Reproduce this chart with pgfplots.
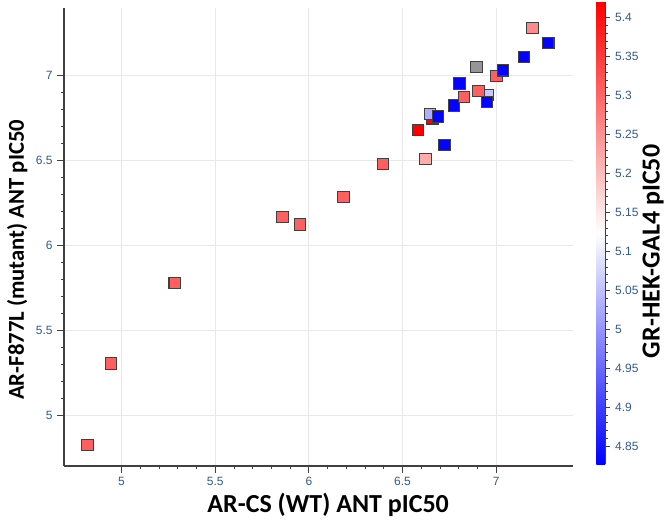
\documentclass[border=0pt]{standalone}
\usepackage{fontspec}
\setmainfont{Liberation Sans}
\newfontfamily\labfont{Carlito}
\usepackage{pgfplots}
\usepackage{pgfplotstable}
\pgfplotsset{compat=1.18}

\definecolor{ticklab}{RGB}{50,90,140}
\definecolor{gridc}{RGB}{232,232,232}
\definecolor{nodata}{RGB}{150,150,150}

% x y meta (GR-HEK-GAL4 pIC50)
\pgfplotstableread{
x      y      c
4.818  4.823  5.31
4.945  5.305  5.31
5.284  5.779  5.31
5.859  6.168  5.31
5.953  6.123  5.31
6.185  6.286  5.31
6.396  6.481  5.31
6.623  6.510  5.22
6.582  6.681  5.42
6.725  6.593  4.83
6.659  6.750  5.42
6.646  6.774  5.03
6.689  6.760  4.83
6.775  6.825  4.83
6.828  6.876  5.31
6.953  6.888  5.06
6.951  6.845  4.83
6.905  6.912  5.31
6.805  6.955  4.83
7.001  7.000  5.31
7.037  7.033  4.83
7.148  7.110  4.83
7.278  7.193  4.83
7.194  7.281  5.26
}\pts

\begin{document}
\begin{tikzpicture}
\useasboundingbox (0,0) rectangle (499.5pt,392.25pt);
\begin{axis}[
  at={(48pt,42.75pt)}, anchor=south west,
  scale only axis, width=381.75pt, height=343.5pt,
  xmin=4.693, xmax=7.41, ymin=4.70, ymax=7.40,
  axis x line*=bottom, axis y line*=left,
  axis line style={-, black!75, line width=0.8pt},
  tick align=outside,
  xtick={5,5.5,6,6.5,7}, ytick={5,5.5,6,6.5,7},
  minor x tick num=4, minor y tick num=4,
  major tick length=5pt, minor tick length=2.5pt,
  tick style={black!75, line width=0.6pt},
  grid=major, major grid style={gridc, line width=0.6pt},
  ticklabel style={font=\fontsize{9}{10}\selectfont, text=ticklab},
  /pgf/number format/assume math mode=true,
  xlabel={AR-CS (WT) ANT pIC50},
  ylabel={AR-F877L (mutant) ANT pIC50},
  xlabel style={font=\labfont\bfseries\fontsize{19.5}{22}\selectfont,
    at={(axis description cs:0.519,0)}, yshift=-29pt, anchor=center},
  ylabel style={font=\labfont\bfseries\fontsize{17}{20}\selectfont,
    at={(axis description cs:0,0.45)}, yshift=35pt, anchor=center},
  colormap={bwr}{rgb255=(0,0,255) rgb255=(255,255,255) rgb255=(255,0,0)},
  point meta min=4.827, point meta max=5.42,
  colorbar,
  colorbar style={
    at={(parent axis.north east)}, anchor=north west, xshift=9pt, yshift=4.5pt,
    scale only axis, width=6.5pt, height=346.5pt,
    axis x line=none, axis y line*=right,
    axis line style={-, black!75, line width=0.8pt},
    ytick={4.85,4.9,4.95,5,5.05,5.1,5.15,5.2,5.25,5.3,5.35,5.4},
    minor y tick num=4, tick align=outside,
    major tick length=4pt, minor tick length=2pt,
    tick style={black!75, line width=0.5pt},
    yticklabel pos=right,
    ticklabel style={font=\fontsize{9}{10}\selectfont, text=ticklab},
    /pgf/number format/assume math mode=true,
    ylabel={GR-HEK-GAL4 pIC50},
    ylabel style={font=\labfont\bfseries\fontsize{19.5}{22}\selectfont,
      at={(axis description cs:1,0.46)}, yshift=-36pt, anchor=center},
  },
  clip=false,
]
\addplot[scatter, only marks, mark=square*, mark size=4.3pt, line width=0.8pt,
  point meta=explicit,
  scatter/use mapped color={draw=black!75, fill=mapped color}]
  table[x=x, y=y, meta=c] {\pts};
\addplot[only marks, mark=square*, mark size=4.3pt, line width=0.8pt,
  draw=black!75, fill=nodata] coordinates {(6.894,7.053)};
\end{axis}
\end{tikzpicture}
\end{document}
